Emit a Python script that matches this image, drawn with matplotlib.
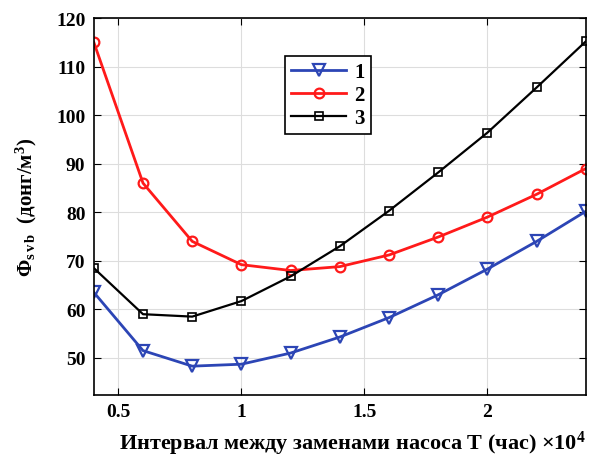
import matplotlib.pyplot as plt

# x values in units of 10^4 hours
x = [0.4, 0.6, 0.8, 1.0, 1.2, 1.4, 1.6, 1.8, 2.0, 2.2, 2.4]
series1 = [63.5, 51.5, 48.3, 48.7, 51.0, 54.3, 58.3, 63.0, 68.3, 74.0, 80.2]
series2 = [115.0, 86.0, 74.0, 69.2, 68.0, 68.8, 71.2, 74.9, 79.0, 83.7, 89.0]
series3 = [68.5, 59.0, 58.5, 61.7, 66.8, 73.0, 80.3, 88.2, 96.4, 105.7, 115.2]
labels = ["1", "2", "3"]

plt.rcParams['font.family'] = ['Liberation Serif', 'DejaVu Serif']
plt.rcParams['font.weight'] = 'bold'
plt.rcParams['mathtext.fontset'] = 'custom'
plt.rcParams['mathtext.rm'] = 'Liberation Serif:bold'
plt.rcParams['mathtext.bf'] = 'Liberation Serif:bold'
plt.rcParams['mathtext.it'] = 'Liberation Serif:bold'

fig = plt.figure(figsize=(5.9, 4.64), dpi=100)
ax = fig.add_axes([0.159, 0.147, 0.834, 0.812])

ax.plot(x, series1, color='#2c45b5', lw=2, marker='v', ms=8, mfc='none', mew=1.6, label=labels[0])
ax.plot(x, series2, color='#ff1a1a', lw=2, marker='o', ms=7, mfc='none', mew=1.6, label=labels[1])
ax.plot(x, series3, color='black', lw=1.6, marker='s', ms=6, mfc='none', mew=1.2, label=labels[2])

ax.set_xlim(0.4, 2.4)
ax.set_ylim(42.4, 120)
ax.set_xticks([0.5, 1, 1.5, 2])
ax.set_xticklabels(["0.5", "1", "1.5", "2"])
ax.set_yticks([50, 60, 70, 80, 90, 100, 110, 120])
ax.tick_params(direction='in', labelsize=14, top=True, right=True, length=5, pad=6)
ax.grid(True, color='#dddddd', lw=0.8)
for s in ax.spines.values():
    s.set_linewidth(1.2)

ax.set_xlabel(r"Интервал между заменами насоса T (час) $\times\mathrm{10^4}$", fontsize=16,
              fontweight='bold', labelpad=6)
ax.xaxis.label.set_x(0.525)
ax.set_ylabel(r"$\mathrm{\Phi}_{\mathrm{s\,v\,b}}$  (донг/м$^\mathrm{3}$)", fontsize=15,
              fontweight='bold', labelpad=12)

leg = ax.legend(loc='upper left', bbox_to_anchor=(0.389, 0.9), fontsize=15, fancybox=False,
                edgecolor='black', framealpha=1, handlelength=2.6, handletextpad=0.4,
                borderpad=0.3, labelspacing=0.15, numpoints=1, borderaxespad=0)
leg.get_frame().set_linewidth(1.2)

fig.savefig("out.png", dpi=100)
